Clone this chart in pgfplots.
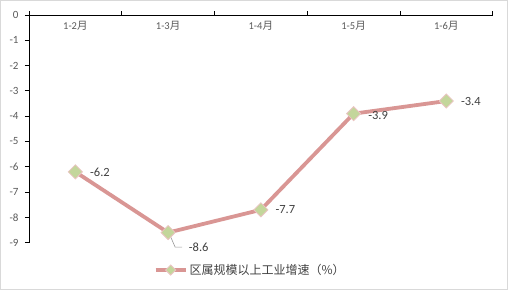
\documentclass[border=0pt]{standalone}
\usepackage{pgfplots}
\pgfplotsset{compat=1.18}
\usepackage{fontspec}
\setmainfont{Carlito}
\newfontfamily\cjk{Noto Sans CJK SC}
\definecolor{linec}{HTML}{D99694}
\definecolor{markc}{HTML}{C3D69B}
\definecolor{markedge}{HTML}{EBC4C3}
\definecolor{tickc}{HTML}{595959}
\definecolor{labc}{HTML}{404040}
\begin{document}
\begin{tikzpicture}[x=1pt,y=1pt]
\path[use as bounding box] (0,0) rectangle (508,290);
\draw[color=black!15, line width=1pt] (0.5,0.5) rectangle (507.5,289.5);
\begin{axis}[
 at={(29pt,47.3pt)}, anchor=south west, scale only axis,
 width=463.7pt, height=227.7pt,
 xmin=0, xmax=5, ymin=-9, ymax=0,
 axis x line*=top, axis y line*=left,
 axis line style={line width=0.9pt, black},
 clip=false,
 tick align=outside,
 xtick={0.5,1.5,2.5,3.5,4.5},
 xticklabels={1-2{\cjk 月},1-3{\cjk 月},1-4{\cjk 月},1-5{\cjk 月},1-6{\cjk 月}},
 major x tick style={draw=none},
 minor xtick={0,1,2,3,4,5},
 minor x tick style={draw=black, line width=0.9pt},
 minor tick length=4pt,
 ytick={-9,-8,-7,-6,-5,-4,-3,-2,-1,0},
 yticklabels={-9,-8,-7,-6,-5,-4,-3,-2,-1,0},
 y tick style={line width=0.9pt, black},
 major tick length=4pt,
 x tick label style={anchor=center, yshift=-15pt, font=\fontsize{10.5}{12}\selectfont, text=tickc},
 y tick label style={xshift=-3pt, font=\fontsize{11}{12}\selectfont, text=tickc},
 legend style={at={(0.477,-0.12)}, anchor=center, draw=none, fill=none,
   font=\fontsize{12}{14}\selectfont, text=labc,
   legend cell align=left},
 legend image code/.code={\draw[mark repeat=2,mark phase=2,#1,mark size=3.6pt] plot coordinates {(0pt,0pt) (15pt,0pt) (30pt,0pt)};},
]
\addplot[color=linec, line width=3.8pt, mark=square*, mark size=5pt,
  mark options={rotate=45, fill=markc, draw=markedge, line width=0.8pt},
  nodes near coords={\pgfmathprintnumber[fixed,precision=1,fixed zerofill,assume math mode=true]{\pgfplotspointmeta}},
  every node near coord/.append style={anchor=west, xshift=11pt, font=\fontsize{12.5}{14}\selectfont, text=labc},
  coordinate style/.condition={y<-8}{xshift=6pt, yshift=-14.6pt},
  coordinate style/.condition={y>-4 && y<-3.5}{yshift=-2pt},
  point meta=explicit]
 coordinates {(0.5,-6.2) [-6.2] (1.5,-8.6) [-8.6] (2.5,-7.7) [-7.7] (3.5,-3.9) [-3.9] (4.5,-3.4) [-3.4]};
\addlegendentry{{\cjk 区属规模以上工业增速（\%）}}
\draw[black!40, line width=0.6pt] ([xshift=2pt,yshift=-3pt]axis cs:1.5,-8.6) -- ++(5pt,-11.5pt) -- ++(7pt,0pt);
\end{axis}
\end{tikzpicture}
\end{document}
